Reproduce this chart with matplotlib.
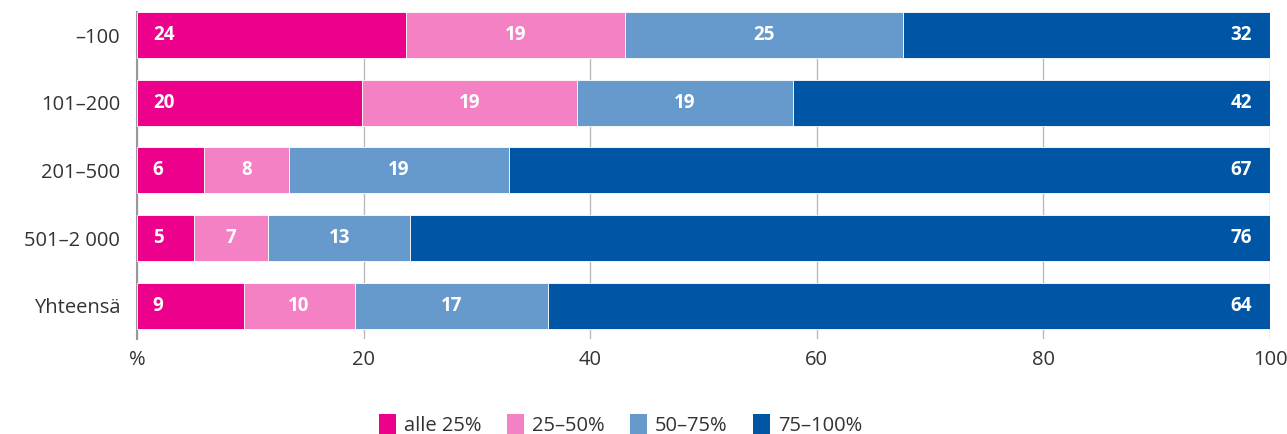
"""
Stacked horizontal bar chart (share by size class)
"""
import matplotlib
matplotlib.use('Agg')
import matplotlib.pyplot as plt
from matplotlib.patches import Patch

plt.rcParams['font.family'] = ['Open Sans', 'DejaVu Sans']

# data
categories = ['\u2013100', '101\u2013200', '201\u2013500', '501\u20132 000', 'Yhteensä']
series_names = ['alle 25%', '25\u201350%', '50\u201375%', '75\u2013100%']
# segment widths (unrounded, as drawn)
s1 = [23.7, 19.9, 5.9, 5.0, 9.4]
s2 = [19.4, 18.9, 7.5, 6.6, 9.8]
s3 = [24.5, 19.1, 19.4, 12.5, 17.1]
s4 = [32.4, 42.1, 67.2, 75.9, 63.7]
# printed labels
l1 = [24, 20, 6, 5, 9]
l2 = [19, 19, 8, 7, 10]
l3 = [25, 19, 19, 13, 17]
l4 = [32, 42, 67, 76, 64]
xticks = [0, 20, 40, 60, 80, 100]
xticklabels = ['%', '20', '40', '60', '80', '100']

colors = ['#EC008C', '#F481C4', '#6699CC', '#0055A5']

fig = plt.figure(figsize=(12.87, 4.34), dpi=100)
ax = fig.add_axes([137/1287, 1 - 339/434, (1270 - 137)/1287, (339 - 12)/434])

y = list(range(len(categories)))
left = [0.0] * len(categories)
widths = [s1, s2, s3, s4]
labels = [l1, l2, l3, l4]
for k in range(4):
    ax.barh(y, widths[k], left=left, height=0.68, color=colors[k],
            edgecolor='white', linewidth=0.6, zorder=3)
    for i in range(len(categories)):
        w = widths[k][i]
        if k == 0:
            xt, ha = left[i] + 1.4, 'left'
        elif k == 3:
            xt, ha = 98.4, 'right'
        else:
            xt, ha = left[i] + w / 2, 'center'
        ax.text(xt, y[i], str(labels[k][i]), ha=ha, va='center', color='white',
                fontsize=13.5, fontweight='bold', zorder=4)
    left = [left[i] + widths[k][i] for i in range(len(categories))]

ax.set_xlim(0, 100)
ax.set_ylim(4.49, -0.34)
ax.set_yticks(y)
ax.set_yticklabels(categories, fontsize=14.5, color='#333333')
ax.set_xticks(xticks)
ax.set_xticklabels(xticklabels, fontsize=14.5, color='#333333')
ax.tick_params(axis='y', length=0, pad=12)
ax.tick_params(axis='x', length=0, pad=8)
ax.grid(True, axis='x', color='#BBBBBB', linewidth=1, zorder=0)
for s in ['top', 'right', 'bottom']:
    ax.spines[s].set_visible(False)
ax.spines['left'].set_color('#999999')
ax.spines['left'].set_linewidth(1.5)

handles = [Patch(facecolor=c, edgecolor='none') for c in colors]
fig.legend(handles, series_names, loc='lower center', bbox_to_anchor=(0.482, -0.032),
           ncol=4, frameon=False, fontsize=14.5, handlelength=0.85, handleheight=1.15,
           columnspacing=1.25, handletextpad=0.4, labelcolor='#333333',
           borderpad=0.1)

plt.savefig('out.png', dpi=100)
plt.close()
